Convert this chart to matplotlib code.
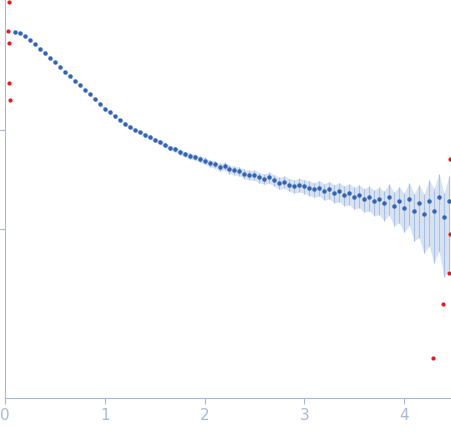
import matplotlib
matplotlib.use("Agg")
import matplotlib.pyplot as plt
import numpy as np

q = [0.10, 0.15, 0.20, 0.25, 0.30, 0.35, 0.40, 0.45, 0.50, 0.55, 0.60, 0.65, 0.70, 0.75,
     0.80, 0.85, 0.90, 0.95, 1.00, 1.05, 1.10, 1.15, 1.20, 1.25, 1.30, 1.35, 1.40, 1.45,
     1.50, 1.55, 1.60, 1.65, 1.70, 1.75, 1.80, 1.85, 1.90, 1.95, 2.00, 2.05, 2.10, 2.15,
     2.20, 2.25, 2.30, 2.35, 2.40, 2.45, 2.50, 2.55, 2.60, 2.65, 2.70, 2.75, 2.80, 2.85,
     2.90, 2.95, 3.00, 3.05, 3.10, 3.15, 3.20, 3.25, 3.30, 3.35, 3.40, 3.45, 3.50, 3.55,
     3.60, 3.65, 3.70, 3.75, 3.80, 3.85, 3.90, 3.95, 4.00, 4.05, 4.10, 4.15, 4.20, 4.25,
     4.30, 4.35, 4.40, 4.45]
intensity = [0.98, 0.96, 0.90, 0.82, 0.74, 0.66, 0.60, 0.54, 0.49, 0.44, 0.39, 0.35, 0.315, 0.285,
             0.255, 0.23, 0.205, 0.185, 0.163, 0.152, 0.138, 0.127, 0.116, 0.108, 0.100, 0.095, 0.089, 0.085,
             0.079, 0.076, 0.071, 0.066, 0.064, 0.060, 0.057, 0.055, 0.053, 0.051, 0.049, 0.046, 0.045, 0.042,
             0.043, 0.040, 0.039, 0.038, 0.036, 0.035, 0.035, 0.033, 0.032, 0.033, 0.031, 0.029, 0.030, 0.028,
             0.027, 0.028, 0.027, 0.026, 0.025, 0.026, 0.024, 0.025, 0.023, 0.024, 0.022, 0.023, 0.021, 0.022,
             0.020, 0.021, 0.019, 0.020, 0.018, 0.021, 0.017, 0.019, 0.016, 0.020, 0.015, 0.018, 0.014, 0.019,
             0.015, 0.021, 0.013, 0.019]
rel_err = [0.02, 0.01, 0.01, 0.01, 0.01, 0.01, 0.01, 0.01, 0.01, 0.01, 0.01, 0.01, 0.01, 0.01,
           0.01, 0.01, 0.02, 0.02, 0.02, 0.02, 0.02, 0.02, 0.03, 0.03, 0.03, 0.03, 0.04, 0.04,
           0.04, 0.05, 0.05, 0.05, 0.06, 0.06, 0.06, 0.07, 0.07, 0.07, 0.08, 0.08, 0.08, 0.09,
           0.09, 0.10, 0.10, 0.10, 0.11, 0.11, 0.12, 0.12, 0.12, 0.13, 0.13, 0.14, 0.14, 0.15,
           0.15, 0.16, 0.16, 0.17, 0.17, 0.18, 0.19, 0.20, 0.21, 0.22, 0.23, 0.24, 0.25, 0.26,
           0.27, 0.28, 0.29, 0.31, 0.33, 0.35, 0.37, 0.40, 0.43, 0.46, 0.50, 0.55, 0.60, 0.65,
           0.70, 0.72, 0.75, 0.80]

# points flagged as outliers (drawn red)
out_q = [0.04, 0.03, 0.04, 0.04, 0.05, 4.29, 4.39, 4.45, 4.46, 4.46]
out_i = [2.0, 1.02, 0.77, 0.30, 0.20, 0.00049, 0.0017, 0.0035, 0.0089, 0.051]

axis_col = "#aab8d8"

fig = plt.figure(figsize=(4.51, 4.37), dpi=100)
ax = fig.add_axes([5 / 451, 39 / 437, 446 / 451, 398 / 437])

qa = np.array(q)
ia = np.array(intensity)
ea = ia * np.array(rel_err)
ax.fill_between(qa, np.maximum(ia - ea, 1e-4), ia + ea, color="#b8cbe8", alpha=0.55, lw=0)
ax.errorbar(qa, ia, yerr=[np.minimum(ea, ia - 1e-4), ea], fmt="o", ms=2.2, color="#3465b5",
            ecolor="#a9c0e6", elinewidth=0.8, capsize=0)
ax.scatter(out_q, out_i, s=4, color="#e41a1c", zorder=3)

ax.set_yscale("log")
ax.set_xlim(0, 4.47)
ax.set_ylim(10 ** (-3.72), 10 ** 0.32)
ax.set_xticks([0, 1, 2, 3, 4])
ax.set_yticks([0.1, 0.01])
ax.yaxis.set_minor_locator(matplotlib.ticker.NullLocator())
ax.set_yticklabels([])
for side in ("top", "right"):
    ax.spines[side].set_visible(False)
for side in ("left", "bottom"):
    ax.spines[side].set_color(axis_col)
ax.tick_params(colors=axis_col, labelcolor=axis_col, labelsize=11, length=4)

fig.savefig("out.png", dpi=100)
